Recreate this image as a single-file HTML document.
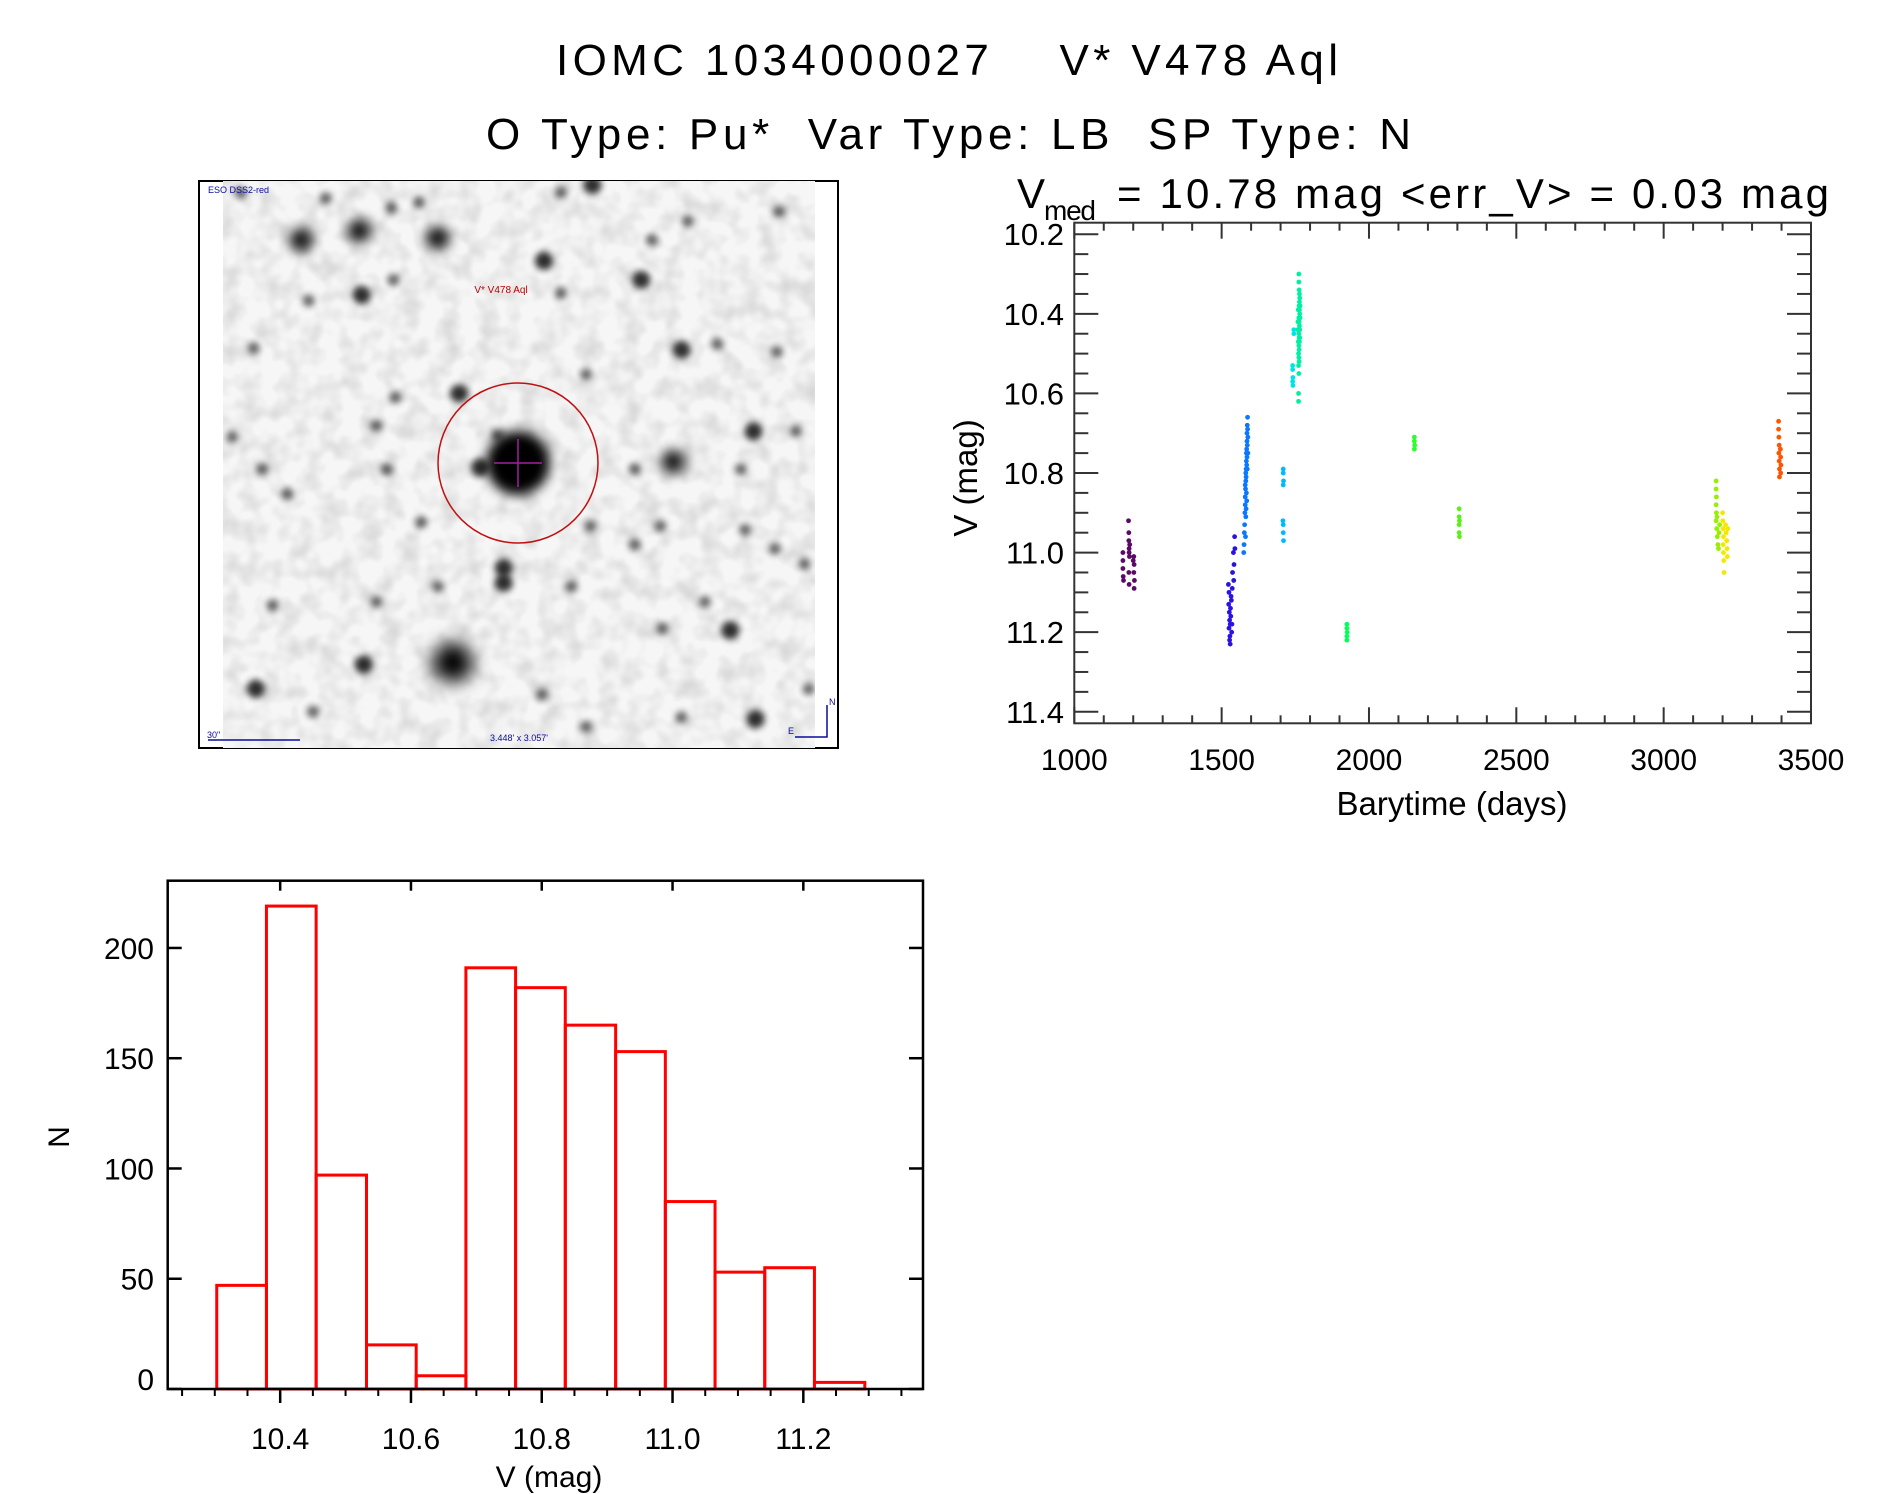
<!DOCTYPE html>
<html><head><meta charset="utf-8"><style>
html,body{margin:0;padding:0;background:#fff}
svg{display:block}
text{font-family:"Liberation Sans",sans-serif;fill:#000}
</style></head><body>
<svg id="root" width="1889" height="1494" viewBox="0 0 1889 1494" xmlns="http://www.w3.org/2000/svg">
<defs>
<filter id="blurS" x="-1" y="-1" width="3" height="3"><feGaussianBlur stdDeviation="3.5"/></filter>
<filter id="blurM" x="-1" y="-1" width="3" height="3"><feGaussianBlur stdDeviation="6"/></filter>
<filter id="blurL" x="-1" y="-1" width="3" height="3"><feGaussianBlur stdDeviation="9"/></filter>
<filter id="noise"><feTurbulence type="fractalNoise" baseFrequency="0.05" numOctaves="2" seed="4"/><feColorMatrix type="matrix" values="0 0 0 0 0  0 0 0 0 0  0 0 0 0 0  0 0 0 -1.6 1.0"/></filter>
<clipPath id="imgclip"><rect x="223" y="181" width="592" height="567"/></clipPath>
</defs>
<text x="556" y="75" font-size="44" textLength="782">IOMC 1034000027 &#160;&#160;&#160;V* V478 Aql</text>
<text x="486" y="149" font-size="44" textLength="925">O Type: Pu* &#160;Var Type: LB &#160;SP Type: N</text>
<g>
<text x="1017" y="208" font-size="42">V</text>
<text x="1044" y="220" font-size="28" textLength="52">med</text>
<text x="1117" y="208" font-size="42" textLength="712">= 10.78 mag &lt;err_V&gt; = 0.03 mag</text>
</g>
<g id="image-panel">
<rect x="199" y="181" width="639" height="567" fill="#fff" stroke="#000" stroke-width="2"/>
<g clip-path="url(#imgclip)" id="stars">
<rect x="223" y="181" width="592" height="567" fill="#f6f6f6"/>
<rect x="223" y="181" width="592" height="567" filter="url(#noise)" opacity="0.15"/>
</g>
</g>
<g id="lc"></g>
<g id="hist"></g>
</svg>
<script>
const NS='http://www.w3.org/2000/svg';
function mk(tag,attrs,parent){const e=document.createElementNS(NS,tag);for(const k in attrs)e.setAttribute(k,attrs[k]);parent.appendChild(e);return e;}

// ---------- Light curve data (Barytime days, V mag) ----------
const lcX0=1000, lcX1=3500, lcY0=10.171, lcY1=11.429;
const lcXTicks=[1000,1500,2000,2500,3000,3500];
const lcXTickLabels=['1000','1500','2000','2500','3000','3500'];
const lcYTicks=[10.2,10.4,10.6,10.8,11.0,11.2,11.4];
const lcYTickLabels=['10.2','10.4','10.6','10.8','11.0','11.2','11.4'];
const c1=[[1165,11.00],[1165,11.02],[1165,11.04],[1166,11.06],[1167,11.07],[1184,10.92],[1185,10.95],[1185,10.97],[1186,10.99],[1186,11.00],[1187,11.01],[1185,11.05],[1186,11.08],[1202,11.01],[1203,11.03],[1202,11.05],[1204,11.07],[1203,11.09],[1200,11.02],[1188,10.98]];
const c2=[[1523,11.08],[1525,11.10],[1524,11.13],[1526,11.15],[1527,11.17],[1525,11.19],[1528,11.21],[1529,11.23],[1531,11.16],[1533,11.12],[1535,11.18],[1537,11.05],[1540,11.00],[1544,10.96],[1542,11.03],[1536,11.09],[1534,11.20],[1530,11.14],[1545,10.99],[1541,11.07],[1532,11.11],[1527,11.22],[1529,11.18]];
const c3=[[1575,11.00],[1576,10.98],[1577,10.95],[1578,10.93],[1579,10.90],[1580,10.88],[1580,10.86],[1581,10.84],[1582,10.82],[1582,10.80],[1583,10.79],[1584,10.77],[1584,10.75],[1585,10.74],[1586,10.72],[1586,10.70],[1587,10.68],[1588,10.66],[1583,10.81],[1585,10.78],[1586,10.76],[1587,10.73],[1584,10.85],[1583,10.89],[1582,10.91],[1589,10.71],[1588,10.69],[1581,10.96],[1580,10.83],[1587,10.79],[1585,10.87],[1589,10.75]];
const c4=[[1709,10.79],[1709,10.80],[1710,10.82],[1709,10.83],[1708,10.92],[1709,10.93],[1709,10.95],[1710,10.97]];
const c5=[[1741,10.53],[1741,10.54],[1742,10.56],[1741,10.57],[1742,10.58],[1745,10.44],[1745,10.45]];
const c6=[[1762,10.30],[1762,10.32],[1763,10.34],[1764,10.35],[1765,10.36],[1763,10.38],[1764,10.39],[1765,10.40],[1762,10.41],[1763,10.42],[1764,10.43],[1765,10.44],[1762,10.45],[1763,10.46],[1764,10.47],[1762,10.48],[1763,10.49],[1761,10.50],[1762,10.51],[1763,10.52],[1761,10.53],[1762,10.55],[1761,10.60],[1761,10.62],[1758,10.44],[1759,10.42],[1766,10.38],[1766,10.41],[1765,10.46],[1760,10.47],[1760,10.39],[1764,10.37]];
const c7=[[1925,11.18],[1925,11.19],[1926,11.20],[1925,11.21],[1925,11.22]];
const c8=[[2154,10.71],[2154,10.72],[2155,10.73],[2154,10.74]];
const c9=[[2306,10.89],[2306,10.91],[2307,10.92],[2306,10.93],[2306,10.95],[2307,10.96]];
const c10=[[3178,10.82],[3178,10.84],[3179,10.86],[3178,10.88],[3179,10.90],[3178,10.92],[3180,10.94],[3181,10.91],[3182,10.96],[3184,10.98],[3186,10.99],[3188,10.95],[3190,10.93]];
const c11=[[3200,10.90],[3201,10.92],[3202,10.94],[3203,10.96],[3202,10.98],[3203,11.00],[3204,11.02],[3205,11.05],[3210,10.93],[3212,10.95],[3214,10.97],[3215,10.99],[3216,11.01],[3218,10.94]];
const c12=[[3390,10.67],[3390,10.69],[3391,10.71],[3392,10.73],[3391,10.75],[3392,10.77],[3393,10.79],[3393,10.81],[3396,10.74],[3397,10.76],[3398,10.78],[3397,10.80]];
const lcSeries=[c1,c2,c3,c4,c5,c6,c7,c8,c9,c10,c11,c12];
const lcColors=['#5a0a66','#2a12e0','#0a78ff','#00baff','#00e4e8','#00f0a0','#00ff5a','#2cff2c','#5cf018','#96f000','#f2e800','#ff5400'];

// ---------- Histogram data ----------
const binEdges=[10.303,10.379,10.455,10.532,10.608,10.684,10.760,10.836,10.913,10.989,11.065,11.141,11.217,11.294];
const binCounts=[47,219,97,20,6,191,182,165,153,85,53,55,3];
const hX0=10.228, hX1=11.383, hY0=0, hY1=230.5;
const hXTicks=[10.4,10.6,10.8,11.0,11.2];
const hXTickLabels=['10.4','10.6','10.8','11.0','11.2'];
const hXMinor=[10.25,10.3,10.35,10.45,10.5,10.55,10.65,10.7,10.75,10.85,10.9,10.95,11.05,11.1,11.15,11.25,11.3,11.35];
const hYTicks=[0,50,100,150,200];
const hYTickLabels=['0','50','100','150','200'];

// ---------- Light curve plot ----------
const lc=document.getElementById('lc');
const L={l:1074.3,r:1811,t:222.7,b:723.3};
function lx(t){return L.l+(t-lcX0)/(lcX1-lcX0)*(L.r-L.l);}
function ly(v){return L.t+(v-lcY0)/(lcY1-lcY0)*(L.b-L.t);}
let el=mk('rect',{x:L.l,y:L.t,width:L.r-L.l,height:L.b-L.t,fill:'none',stroke:'#333','stroke-width':2},lc);


for(let t=lcX0;t<=lcX1;t+=100){
  const major=lcXTicks.indexOf(t)>=0, len=major?16:8, x=lx(t);
  el=mk('line',{x1:x,x2:x,y1:L.b,y2:L.b-len,stroke:'#333','stroke-width':2},lc);
  
  
  el=mk('line',{x1:x,x2:x,y1:L.t,y2:L.t+len,stroke:'#333','stroke-width':2},lc);
  
  
}
lcXTicks.forEach((t,i)=>{
  el=mk('text',{x:lx(t),y:770,'font-size':30,'text-anchor':'middle'},lc);el.textContent=lcXTickLabels[i];
  
  
});
for(let k=0;k<=24;k++){
  const v=10.2+k*0.05, major=(k%4===0), len=major?24:14, y=ly(v);
  el=mk('line',{x1:L.l,x2:L.l+len,y1:y,y2:y,stroke:'#333','stroke-width':2},lc);
  
  
  el=mk('line',{x1:L.r,x2:L.r-len,y1:y,y2:y,stroke:'#333','stroke-width':2},lc);
  
  
}
lcYTicks.forEach((v,i)=>{
  el=mk('text',{x:1064,y:ly(v)+11,'font-size':31,'text-anchor':'end'},lc);el.textContent=lcYTickLabels[i];
  
  
});
el=mk('text',{x:1452,y:815,'font-size':33,'text-anchor':'middle'},lc);el.textContent='Barytime (days)';


el=mk('text',{x:0,y:0,'font-size':33,'text-anchor':'middle',transform:'translate(977,478) rotate(-90)'},lc);el.textContent='V (mag)';


lcSeries.forEach((s,si)=>{
  const g=mk('g',{fill:lcColors[si]},lc);
  
  
  s.forEach(p=>{
    const c=mk('circle',{cx:lx(p[0]),cy:ly(p[1]),r:2.4},g);
    
    
  });
});

// ---------- Histogram ----------
const hg=document.getElementById('hist');
const H={l:167.7,r:923,t:880.7,b:1389};
function hx(v){return H.l+(v-hX0)/(hX1-hX0)*(H.r-H.l);}
function hy(n){return H.b-(n-hY0)/(hY1-hY0)*(H.b-H.t);}
binCounts.forEach((n,i)=>{
  const x0=hx(binEdges[i]), x1=hx(binEdges[i+1]);
  el=mk('rect',{x:x0,y:hy(n),width:x1-x0,height:hy(0)-hy(n),fill:'none',stroke:'#ff0000','stroke-width':3},hg);
  
  
});
el=mk('rect',{x:H.l,y:H.t,width:H.r-H.l,height:H.b-H.t,fill:'none',stroke:'#000','stroke-width':2.5},hg);


hXTicks.forEach((v,i)=>{
  const x=hx(v);
  el=mk('line',{x1:x,x2:x,y1:H.b,y2:H.b+14,stroke:'#000','stroke-width':2.5},hg);
  
  
  el=mk('line',{x1:x,x2:x,y1:H.t,y2:H.t+10,stroke:'#000','stroke-width':2.5},hg);
  
  
  el=mk('text',{x:x,y:1449,'font-size':30,'text-anchor':'middle'},hg);el.textContent=hXTickLabels[i];
  
  
});
hXMinor.forEach(v=>{
  const x=hx(v);
  el=mk('line',{x1:x,x2:x,y1:H.b,y2:H.b+7,stroke:'#000','stroke-width':2},hg);
  
  
});
hYTicks.forEach((n,i)=>{
  const y=hy(n);
  el=mk('line',{x1:H.l,x2:H.l+14,y1:y,y2:y,stroke:'#000','stroke-width':2.5},hg);
  
  
  el=mk('line',{x1:H.r,x2:H.r-14,y1:y,y2:y,stroke:'#000','stroke-width':2.5},hg);
  
  
  el=mk('text',{x:154,y:(n===0?y+1:y+11),'font-size':30,'text-anchor':'end'},hg);el.textContent=hYTickLabels[i];
  
  
});
el=mk('text',{x:549,y:1487,'font-size':30,'text-anchor':'middle'},hg);el.textContent='V (mag)';


el=mk('text',{x:0,y:0,'font-size':30,'text-anchor':'middle',transform:'translate(69,1137) rotate(-90)'},hg);el.textContent='N';



// ---------- Sky image decoration ----------
const sg=document.getElementById('stars');
const starList=[[262,185,3],[400,160,3],[585,180,3],[835,240,2],[950,40,2],[875,60,1],[1065,290,2],[405,330,2],[280,345,1],[1160,475,2],[1385,480,1],[1330,690,2],[1140,770,3],[1050,790,1],[635,590,2],[485,600,1],[440,675,1],[170,790,1],[465,790,1],[100,705,1],[740,1050,2],[740,1090,2],[585,1100,1],[620,1300,4],[410,1305,2],[155,1370,2],[830,1385,1],[1275,1215,2],[1335,1450,2],[1450,1040,1],[1050,990,1],[935,540,1],[1175,135,1],[1390,110,1],[545,930,1],[195,1150,1],[440,1140,1],[230,855,1],[1115,1210,1],[945,940,1],[1090,185,1],[320,75,1],[475,100,1],[540,85,1],[875,325,1],[1245,460,1],[1215,1140,1],[290,1430,1],[1160,1445,1],[935,1470,1],[1460,1370,1],[725,700,1],[685,785,2],[120,60,1],[1380,1000,1],[1310,950,1],[1110,940,1],[900,1100,1],[480,290,1],[150,470,1],[1300,790,1],[1430,690,1]];
const radii=[0,6,9,12,20], filt=['','blurS','blurS','blurM','blurL'], op=[0,0.6,0.8,0.9,1];
starList.forEach(s=>{
  const c=mk('circle',{cx:190+s[0]/2.36,cy:170+s[1]/2.64,r:radii[s[2]],fill:'#000',opacity:op[s[2]],filter:'url(#'+filt[s[2]]+')'},sg);
  
  
});
const cx=518,cy=463;
mk('circle',{cx:cx,cy:cy,r:32,fill:'#000',filter:'url(#blurM)'},sg);
mk('circle',{cx:cx,cy:cy,r:16,fill:'#000',filter:'url(#blurS)'},sg);
mk('line',{x1:cx-60,x2:cx+60,y1:cy,y2:cy,stroke:'#777','stroke-width':3,filter:'url(#blurS)'},sg);
mk('line',{x1:cx,x2:cx,y1:cy-60,y2:cy+70,stroke:'#777','stroke-width':3,filter:'url(#blurS)'},sg);
mk('line',{x1:cx-24,x2:cx+24,y1:cy,y2:cy,stroke:'#a020a0','stroke-width':1.5},sg);
mk('line',{x1:cx,x2:cx,y1:cy-24,y2:cy+24,stroke:'#a020a0','stroke-width':1.5},sg);
el=mk('circle',{cx:cx,cy:cy,r:80,fill:'none',stroke:'#c01010','stroke-width':1.5},sg);


el=mk('text',{x:501,y:293,'font-size':10,'text-anchor':'middle',style:'fill:#c00000'},sg);el.textContent='V* V478 Aql';


const ip=document.getElementById('image-panel');
el=mk('text',{x:208,y:193,'font-size':9,style:'fill:#0a0aa0'},ip);el.textContent='ESO DSS2-red';


el=mk('text',{x:207,y:738,'font-size':9,style:'fill:#0a0aa0'},ip);el.textContent='30"';


mk('line',{x1:208,x2:300,y1:740,y2:740,stroke:'#0a0aa0','stroke-width':1.5},ip);
el=mk('text',{x:519,y:741,'font-size':9,'text-anchor':'middle',style:'fill:#0a0aa0'},ip);el.textContent="3.448' x 3.057'";


mk('polyline',{points:'795,737 827,737 827,705',fill:'none',stroke:'#0a0aa0','stroke-width':1.5},ip);
el=mk('text',{x:829,y:705,'font-size':9,style:'fill:#0a0aa0'},ip);el.textContent='N';


el=mk('text',{x:788,y:734,'font-size':9,style:'fill:#0a0aa0'},ip);el.textContent='E';


</script>
</body></html>
